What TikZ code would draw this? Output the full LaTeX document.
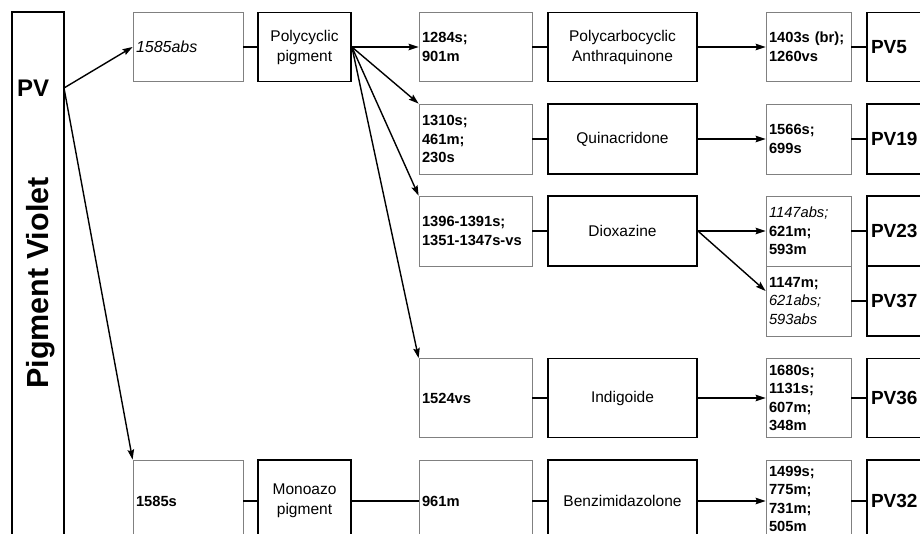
\documentclass[tikz,border=0pt]{standalone}
\usepackage{fontspec}
\setmainfont{Liberation Sans}
\usetikzlibrary{arrows.meta}
% font shorthands
\newcommand\lblfont{\fontsize{14.7}{18.5}\selectfont\bfseries}
\newcommand\namefont{\fontsize{15.5}{20}\selectfont}
\newcommand\pvfont{\fontsize{19}{22}\selectfont\bfseries}
\newcommand\absit{\itshape\mdseries}
\begin{document}
\begin{tikzpicture}[x=1pt,y=-1pt,
  thinbox/.style={draw=black!50, line width=0.8pt, inner xsep=3pt, inner ysep=0pt,
    align=left, font=\lblfont},
  thickbox/.style={draw=black, line width=1.8pt, inner sep=0pt, align=center, font=\namefont},
  pvbox/.style={draw=black, line width=1.8pt, inner xsep=4pt, inner ysep=0pt, align=left,
    font=\pvfont, text width=85pt, minimum width=93pt},
  colA/.style={thinbox, minimum width=110pt, text width=104pt},
  colB/.style={thickbox, minimum width=93pt},
  colC/.style={thinbox, minimum width=113pt, text width=107pt},
  colD/.style={thickbox, minimum width=149pt},
  colE/.style={thinbox, minimum width=85pt, text width=79pt},
  link/.style={line width=1.6pt},
  arrow/.style={line width=1.4pt, -{Stealth[length=10pt,width=6.5pt,inset=1.5pt]}}]

\useasboundingbox (0,0) rectangle (920,534);
\clip (0,0) rectangle (920,534);

% left column: class
\node[draw, line width=1.8pt, minimum width=52pt, minimum height=548pt, inner sep=0pt]
  (pvcol) at (38,286) {};
\node[anchor=west, inner sep=0pt, font=\fontsize{24}{28}\selectfont\bfseries] (pv) at (17,88) {PV};
\node[rotate=90, anchor=base, inner sep=0pt, font=\fontsize{30.5}{36}\selectfont\bfseries]
  (pvname) at (48,283) {Pigment Violet};
\coordinate (pvout) at (64,88);

% row 1
\node[colA, minimum height=69pt] (c1r1) at (188,47) {\fontsize{16}{19}\selectfont\absit 1585abs};
\node[colB, minimum height=69pt] (c2r1) at (304.5,47) {Polycyclic\\pigment};
\node[colC, minimum height=69pt] (c3r1) at (475.5,47) {1284s;\\901m};
\node[colD, minimum height=69pt] (c4r1) at (622.5,47) {Polycarbocyclic\\Anthraquinone};
\node[colE, minimum height=69pt] (c5r1) at (808.5,47) {1403s (br);\\1260vs};
\node[pvbox, minimum height=69pt] (c6r1) at (913.5,47) {PV5};

% row 2
\node[colC, minimum height=70pt] (c3r2) at (475.5,139) {1310s;\\461m;\\230s};
\node[colD, minimum height=70pt] (c4r2) at (622.5,139) {Quinacridone};
\node[colE, minimum height=70pt] (c5r2) at (808.5,139) {1566s;\\699s};
\node[pvbox, minimum height=70pt] (c6r2) at (913.5,139) {PV19};

% row 3
\node[colC, minimum height=70pt] (c3r3) at (475.5,231) {1396-1391s;\\1351-1347s-vs};
\node[colD, minimum height=70pt] (c4r3) at (622.5,231) {Dioxazine};
\node[colE, minimum height=70pt] (c5r3) at (808.5,231) {{\absit 1147abs;}\\621m;\\593m};
\node[pvbox, minimum height=70pt] (c6r3) at (913.5,231) {PV23};
\node[colE, minimum height=70pt] (c5r3b) at (808.5,301) {1147m;\\{\absit 621abs;}\\{\absit 593abs}};
\node[pvbox, minimum height=70pt] (c6r3b) at (913.5,301) {PV37};

% row 4
\node[colC, minimum height=79pt] (c3r4) at (475.5,398) {1524vs};
\node[colD, minimum height=79pt] (c4r4) at (622.5,398) {Indigoide};
\node[colE, minimum height=79pt] (c5r4) at (808.5,398) {1680s;\\1131s;\\607m;\\348m};
\node[pvbox, minimum height=79pt] (c6r4) at (913.5,398) {PV36};

% row 5
\node[colA, minimum height=82pt] (c1r5) at (188,501) {1585s};
\node[colB, minimum height=82pt] (c2r5) at (304.5,501) {Monoazo\\pigment};
\node[colC, minimum height=82pt] (c3r5) at (475.5,501) {961m};
\node[colD, minimum height=82pt] (c4r5) at (622.5,501) {Benzimidazolone};
\node[colE, minimum height=78pt] (c5r5) at (808.5,499) {1499s;\\775m;\\731m;\\505m};
\node[pvbox, minimum height=82pt] (c6r5) at (913.5,501) {PV32};

% connectors
\draw[arrow] (pvout) -- (c1r1.west);
\draw[arrow] (pvout) -- (c1r5.north west);
\draw[link] (c1r1.east) -- (c2r1.west);
\draw[link] (c1r5.east) -- (c2r5.west);
\draw[link] (c2r5.east) -- (c3r5.west);

\draw[arrow] (c2r1.east) -- (c3r1.west);
\draw[arrow] (c2r1.east) -- (c3r2.north west);
\draw[arrow] (c2r1.east) -- (c3r3.north west);
\draw[arrow] (c2r1.east) -- (c3r4.north west);

\foreach \r in {r1,r2,r3,r4} {
  \draw[link] (c3\r.east) -- (c4\r.west);
  \draw[link] (c5\r.east) -- (c6\r.west);
}
\draw[link] (c3r5.east) -- (c4r5.west);
\draw[link] (c5r5.east |- c6r5.west) -- (c6r5.west);
\draw[link] (c5r3b.east) -- (c6r3b.west);

\draw[arrow] (c4r1.east) -- (c5r1.west);
\draw[arrow] (c4r2.east) -- (c5r2.west);
\draw[arrow] (c4r3.east) -- (c5r3.west);
\draw[arrow] (c4r3.east) -- ([yshift=10pt]c5r3b.west);
\draw[arrow] (c4r4.east) -- (c5r4.west);
\draw[arrow] (c4r5.east) -- (c5r5.west |- c4r5.east);
\end{tikzpicture}
\end{document}
